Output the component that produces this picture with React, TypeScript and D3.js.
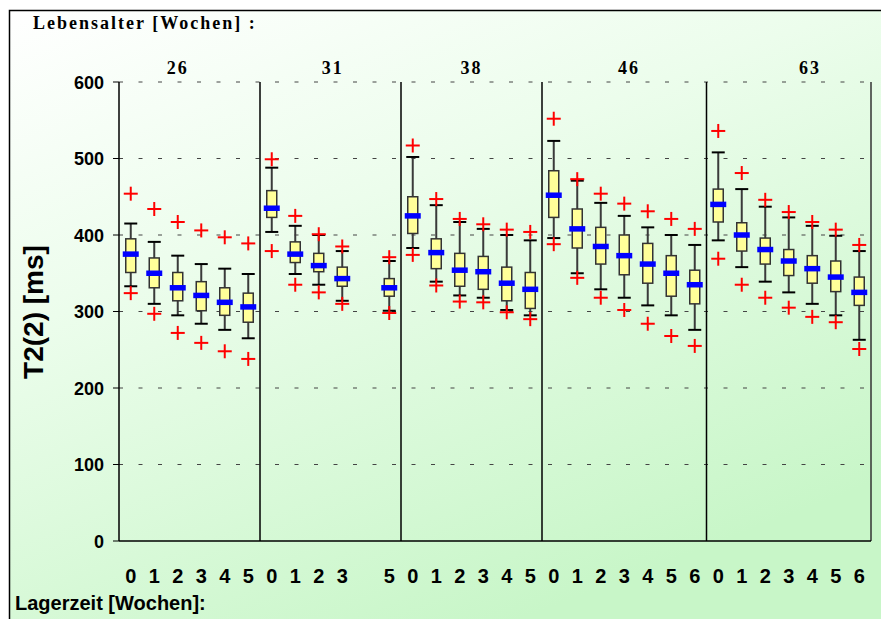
import React from 'react';
import * as d3 from 'd3';

// Age groups (weeks) and how many storage-week slots each group spans
const ageGroups = ['26', '31', '38', '46', '63'];
const groupSlotCounts = [6, 6, 6, 7, 7];
// Horizontal anchor of each age label, in slot units
const groupLabelSlot = [2, 8.6, 14.5, 21.2, 28.9];

// One entry per box: age group index and storage time (weeks)
const boxGroup = [
  0, 0, 0, 0, 0, 0,
  1, 1, 1, 1, 1,
  2, 2, 2, 2, 2, 2,
  3, 3, 3, 3, 3, 3, 3,
  4, 4, 4, 4, 4, 4, 4,
];
const storageWeek = [
  0, 1, 2, 3, 4, 5,
  0, 1, 2, 3, 5,
  0, 1, 2, 3, 4, 5,
  0, 1, 2, 3, 4, 5, 6,
  0, 1, 2, 3, 4, 5, 6,
];

// T2(2) statistics in ms
const outlierHigh = [
  454, 434, 417, 406, 397, 389,
  499, 425, 401, 385, 371,
  517, 447, 421, 414, 407, 404,
  552, 473, 454, 441, 431, 421, 408,
  536, 481, 446, 430, 417, 407, 387,
];
const whiskerHigh = [
  415, 391, 373, 362, 356, 349,
  488, 412, 400, 379, 366,
  502, 439, 417, 408, 400, 393,
  523, 471, 442, 425, 410, 400, 387,
  508, 460, 437, 423, 412, 399, 379,
];
const quartile3 = [
  395, 370, 351, 339, 331, 324,
  458, 391, 376, 358, 343,
  450, 395, 376, 372, 358, 351,
  484, 434, 410, 400, 389, 373, 354,
  460, 416, 396, 381, 373, 366, 345,
];
const medianValue = [
  375, 350, 331, 321, 312, 306,
  435, 375, 360, 343, 331,
  425, 377, 354, 352, 337, 329,
  452, 408, 385, 373, 362, 350, 335,
  440, 400, 381, 366, 356, 345, 325,
];
const quartile1 = [
  351, 331, 314, 301, 295, 286,
  423, 364, 352, 333, 320,
  402, 356, 333, 329, 314, 304,
  423, 383, 362, 348, 337, 320, 310,
  417, 379, 362, 347, 337, 326, 308,
];
const whiskerLow = [
  333, 310, 295, 284, 276, 265,
  404, 349, 335, 314, 301,
  383, 339, 321, 318, 302, 295,
  396, 350, 329, 318, 308, 295, 276,
  393, 358, 339, 325, 310, 295, 263,
];
const outlierLow = [
  324, 297, 272, 259, 248, 238,
  379, 335, 325, 310, 298,
  374, 334, 313, 312, 299, 290,
  388, 344, 318, 302, 284, 268, 255,
  369, 335, 318, 305, 293, 286, 251,
];

const yTicks = [0, 100, 200, 300, 400, 500, 600];

const W = 881;
const H = 619;
const plot = { left: 119, right: 871, top: 82, bottom: 541 };

const totalSlots = d3.sum(groupSlotCounts);
const groupStart = groupSlotCounts.map((_, i) => d3.sum(groupSlotCounts.slice(0, i)));

const x = d3
  .scaleBand<number>()
  .domain(d3.range(totalSlots))
  .range([plot.left, plot.right])
  .padding(0);
const y = d3.scaleLinear().domain([0, 600]).range([plot.bottom, plot.top]);

const slotCenter = (s: number) => plot.left + (s + 0.5) * x.step();

const sans = '"Liberation Sans", Arial, sans-serif';
const serif = '"Liberation Serif", "Times New Roman", serif';

function Plus({ cx, cy }: { cx: number; cy: number }) {
  const r = 7;
  return (
    <g stroke="#ff0000" strokeWidth={2}>
      <line x1={cx - r} x2={cx + r} y1={cy} y2={cy} />
      <line x1={cx} x2={cx} y1={cy - r} y2={cy + r} />
    </g>
  );
}

export default function App() {
  const boxes = boxGroup.map((g, i) => {
    const slot = groupStart[g] + storageWeek[i];
    return { i, slot, cx: slotCenter(slot) };
  });
  const dividers = groupStart.slice(1).map((s) => x(s) as number);

  return (
    <svg
      width={W}
      height={H}
      style={{ position: 'absolute', left: 0, top: 0, display: 'block' }}
    >
      <defs>
        <linearGradient id="bg" x1="0" y1="0" x2="0.55" y2="1">
          <stop offset="0" stopColor="#ffffff" />
          <stop offset="0.4" stopColor="#ecfdec" />
          <stop offset="1" stopColor="#c8f6c8" />
        </linearGradient>
      </defs>
      <rect x={0} y={0} width={W} height={H} fill="#ffffff" />
      <rect
        x={9.5}
        y={10.5}
        width={W}
        height={H}
        fill="url(#bg)"
        stroke="#000"
        strokeWidth={1.5}
      />

      <text
        x={33}
        y={29}
        fontFamily={serif}
        fontWeight="bold"
        fontSize={18}
        letterSpacing={2}
        fill="#000"
      >
        Lebensalter [Wochen] :
      </text>

      {ageGroups.map((a, g) => (
        <text
          key={a}
          x={slotCenter(groupLabelSlot[g])}
          y={74}
          textAnchor="middle"
          fontFamily={serif}
          fontWeight="bold"
          fontSize={18}
          letterSpacing={2}
        >
          {a}
        </text>
      ))}

      {/* horizontal dashed gridlines */}
      {yTicks
        .filter((t) => t > 0)
        .map((t) => (
          <line
            key={t}
            x1={plot.left}
            x2={plot.right}
            y1={y(t)}
            y2={y(t)}
            stroke="#444"
            strokeWidth={1}
            strokeDasharray="4 15.5"
          />
        ))}

      {/* y axis, ticks and labels */}
      <line x1={plot.left} x2={plot.left} y1={plot.top} y2={plot.bottom} stroke="#000" strokeWidth={1.5} />
      <line x1={plot.right} x2={plot.right} y1={plot.top} y2={plot.bottom} stroke="#333" strokeWidth={1.5} />
      <line x1={plot.left} x2={plot.right} y1={plot.bottom} y2={plot.bottom} stroke="#000" strokeWidth={1.5} />
      {yTicks.map((t) => (
        <g key={t}>
          <line x1={plot.left - 6} x2={plot.left} y1={y(t)} y2={y(t)} stroke="#000" strokeWidth={1} />
          <text
            x={104}
            y={y(t) + 6.5}
            textAnchor="end"
            fontFamily={sans}
            fontWeight="bold"
            fontSize={18}
          >
            {t}
          </text>
        </g>
      ))}

      {dividers.map((dx, k) => (
        <line key={k} x1={dx} x2={dx} y1={plot.top} y2={plot.bottom} stroke="#000" strokeWidth={1.5} />
      ))}

      <text
        transform={`translate(43,312) rotate(-90)`}
        textAnchor="middle"
        fontFamily={sans}
        fontWeight="bold"
        fontSize={28}
      >
        T2(2) [ms]
      </text>

      {/* boxes */}
      {boxes.map(({ i, cx }) => {
        const bw = 10;
        const cw = 13;
        const mw = 16;
        return (
          <g key={i}>
            <line
              x1={cx}
              x2={cx}
              y1={y(whiskerHigh[i])}
              y2={y(whiskerLow[i])}
              stroke="#3a3a3a"
              strokeWidth={2}
            />
            <line x1={cx - cw / 2} x2={cx + cw / 2} y1={y(whiskerHigh[i])} y2={y(whiskerHigh[i])} stroke="#000" strokeWidth={2} />
            <line x1={cx - cw / 2} x2={cx + cw / 2} y1={y(whiskerLow[i])} y2={y(whiskerLow[i])} stroke="#000" strokeWidth={2} />
            <rect
              x={cx - bw / 2}
              y={y(quartile3[i])}
              width={bw}
              height={y(quartile1[i]) - y(quartile3[i])}
              fill="#ffff99"
              stroke="#333"
              strokeWidth={1.5}
            />
            <rect
              x={cx - mw / 2}
              y={y(medianValue[i]) - 2.75}
              width={mw}
              height={5.5}
              fill="#0000ff"
            />
            <Plus cx={cx} cy={y(outlierHigh[i])} />
            <Plus cx={cx} cy={y(outlierLow[i])} />
          </g>
        );
      })}

      {/* storage time labels */}
      {boxes.map(({ i, cx }) => (
        <text
          key={i}
          x={cx}
          y={583}
          textAnchor="middle"
          fontFamily={sans}
          fontWeight="bold"
          fontSize={20}
        >
          {storageWeek[i]}
        </text>
      ))}
      <text x={15} y={610} fontFamily={sans} fontWeight="bold" fontSize={20}>
        Lagerzeit [Wochen]:
      </text>
    </svg>
  );
}
